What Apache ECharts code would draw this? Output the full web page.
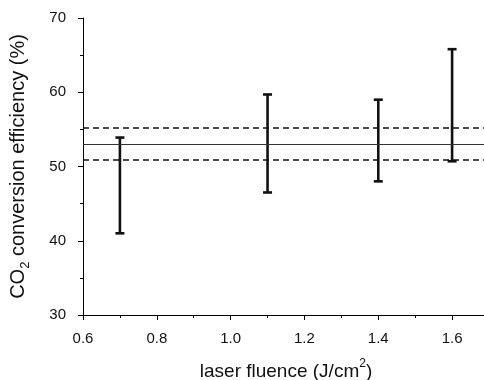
<!DOCTYPE html>
<html>
<head>
<meta charset="utf-8">
<script src="https://cdn.jsdelivr.net/npm/echarts@6/dist/echarts.min.js"></script>
<style>
  html, body { margin: 0; padding: 0; background: #fff; }
  #chart { width: 484px; height: 380px; }
</style>
</head>
<body>
<div id="chart"></div>
<script>
// laser fluence (J/cm2) at each measurement
const fluence = [0.7, 1.1, 1.4, 1.6];
// error bar ends, CO2 conversion efficiency (%)
const lowValues = [41.0, 46.5, 48.0, 50.7];
const highValues = [53.9, 59.7, 59.0, 65.8];
// overall mean and its band
const meanValue = 53.0;
const bandLow = 50.85;
const bandHigh = 55.25;

const font = "'Liberation Sans', Arial, sans-serif";

const barData = fluence.map((x, i) => [x, lowValues[i], highValues[i]]);

function renderErrorBar(params, api) {
  const x = api.value(0);
  const lo = api.coord([x, api.value(1)]);
  const hi = api.coord([x, api.value(2)]);
  const cap = 4.5;
  const style = { stroke: '#111', lineWidth: 2.6 };
  return {
    type: 'group',
    children: [
      { type: 'line', shape: { x1: lo[0], y1: lo[1], x2: hi[0], y2: hi[1] }, style },
      { type: 'line', shape: { x1: lo[0] - cap, y1: lo[1], x2: lo[0] + cap, y2: lo[1] }, style },
      { type: 'line', shape: { x1: hi[0] - cap, y1: hi[1], x2: hi[0] + cap, y2: hi[1] }, style }
    ]
  };
}

const chart = echarts.init(document.getElementById('chart'), null, { renderer: 'canvas' });

const axisLine = { show: true, lineStyle: { color: '#000', width: 1 } };

chart.setOption({
  backgroundColor: '#fff',
  animation: false,
  textStyle: { fontFamily: font },
  grid: { left: 83, right: -5, top: 18, bottom: 65, outerBoundsMode: 'none', containLabel: false },
  xAxis: [
    {
      // main axis: labels and long ticks every 0.2
      type: 'value', min: 0.6, max: 1.7, interval: 0.2,
      axisLine,
      axisTick: { show: true, length: 5, inside: false, lineStyle: { color: '#000' } },
      axisLabel: {
        color: '#111', fontSize: 15, margin: 16, fontFamily: font,
        showMaxLabel: false,
        formatter: (v) => v.toFixed(1)
      },
      splitLine: { show: false },
      name: '{t|laser fluence (J/cm}{sup|2}{t|)}',
      nameLocation: 'middle',
      nameGap: 43,
      nameTextStyle: {
        rich: {
          t: { fontSize: 19, color: '#111', fontFamily: font, lineHeight: 23, verticalAlign: 'bottom' },
          sup: { fontSize: 12, color: '#111', fontFamily: font, lineHeight: 23, verticalAlign: 'top', padding: [0, 0, 8, 0] }
        }
      }
    },
    {
      // short ticks every 0.1
      type: 'value', min: 0.6, max: 1.7, interval: 0.1, position: 'bottom',
      axisLine: { show: false },
      axisTick: { show: true, length: 3, lineStyle: { color: '#000' } },
      axisLabel: { show: false },
      splitLine: { show: false }
    }
  ],
  yAxis: {
    type: 'value', min: 30, max: 70, interval: 10,
    axisLine,
    axisTick: { show: true, length: 5, lineStyle: { color: '#000' } },
    minorTick: { show: true, splitNumber: 2, length: 3, lineStyle: { color: '#000' } },
    axisLabel: { color: '#111', fontSize: 15, margin: 17, fontFamily: font },
    splitLine: { show: false },
    name: '{t|CO}{sub|2}{t| conversion efficiency (%)}',
    nameLocation: 'middle',
    nameGap: 51,
    nameRotate: 90,
    nameTextStyle: {
      rich: {
        t: { fontSize: 20, color: '#111', fontFamily: font, lineHeight: 24, verticalAlign: 'top' },
        sub: { fontSize: 13, color: '#111', fontFamily: font, lineHeight: 24, verticalAlign: 'bottom', padding: [8, 0, 0, 0] }
      }
    }
  },
  series: [
    {
      type: 'custom',
      xAxisIndex: 0,
      renderItem: renderErrorBar,
      encode: { x: 0, y: [1, 2] },
      data: barData,
      z: 3,
      markLine: {
        silent: true,
        symbol: ['none', 'none'],
        label: { show: false },
        data: [
          { yAxis: meanValue, lineStyle: { type: 'solid', color: '#333', width: 1.2 } },
          { yAxis: bandLow, lineStyle: { type: [6, 4], color: '#111', width: 1.5 } },
          { yAxis: bandHigh, lineStyle: { type: [6, 4], color: '#111', width: 1.5 } }
        ]
      }
    }
  ]
});
</script>
</body>
</html>
